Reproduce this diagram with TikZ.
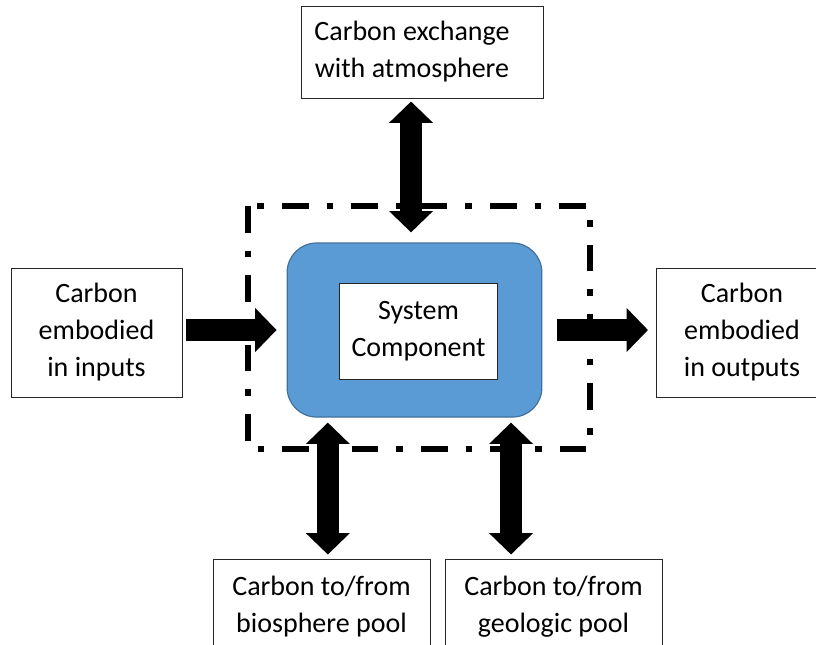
\documentclass[tikz,border=0pt]{standalone}
\usepackage{fontspec}
\setmainfont{Carlito}
\usetikzlibrary{arrows.meta,calc}
\definecolor{compblue}{HTML}{5B9BD5}
\definecolor{compedge}{HTML}{41719C}
\tikzset{
  box/.style={draw=black!85, line width=0.75pt, fill=white, align=center, inner sep=0pt, font=\fontsize{21}{27.75}\selectfont},
  compbox/.style={draw=compedge, line width=0.9pt, fill=compblue, rounded corners=22pt, minimum width=191pt, minimum height=130.5pt},
  flow/.style={line width=16.5pt, -{Triangle[width=32pt,length=16pt]}},
  twoway/.style={line width=16.5pt, {Triangle[width=32pt,length=16pt]}-{Triangle[width=32pt,length=16pt]}},
  boundary/.style={line width=4.2pt, dash pattern=on 20pt off 13.5pt on 5pt off 13.5pt}
}

\begin{document}
\begin{tikzpicture}[x=0.75pt,y=0.75pt,yscale=-1,xscale=1]
\useasboundingbox (0,0) rectangle (816,644);
\clip (0,0) rectangle (816,644);

%Shape: system boundary
\draw[boundary] (248,206) rectangle (590,449);

%Shape: system component
\node[compbox] (comp) at (414.5,330) {};
\node[box, minimum width=118pt, minimum height=72pt] (sys) at (418.5,331) {System\\Component};

% Text Nodes
\node[box, minimum width=181.5pt, minimum height=69pt] (atm) at (422,52) {\hspace*{-15pt}Carbon exchange\\\hspace*{-15pt}with atmosphere};
\node[box, minimum width=128.25pt, minimum height=96.75pt] (inputs) at (96.5,332.5) {Carbon\\embodied\\in inputs};
\node[box, minimum width=128.25pt, minimum height=96.75pt] (outputs) at (742,332.5) {Carbon\\embodied\\in outputs};
\node[box, minimum width=162.75pt, minimum height=72pt] (bio) at (321.5,607) {Carbon to/from\\biosphere pool};
\node[box, minimum width=162.75pt, minimum height=72pt] (geo) at (553.5,607) {Carbon to/from\\geologic pool};

%Arrows
\draw[flow, shorten <=2.25pt, shorten >=7.5pt] (inputs.east |- comp.west) -- (comp.west);
\draw[flow, shorten <=11.25pt, shorten >=6pt] (comp.east) -- (outputs.west |- comp.east);
\draw[twoway, shorten <=7.5pt, shorten >=2.25pt] ([xshift=-2.6pt]comp.north) -- ([xshift=-2.6pt]comp.north |- atm.south);
\draw[twoway, shorten <=3.75pt, shorten >=3pt] ([xshift=-65pt]comp.south) -- ([xshift=-65pt]comp.south |- bio.north);
\draw[twoway, shorten <=3.75pt, shorten >=3pt] ([xshift=72.4pt]comp.south) -- ([xshift=72.4pt]comp.south |- geo.north);

\end{tikzpicture}
\end{document}
